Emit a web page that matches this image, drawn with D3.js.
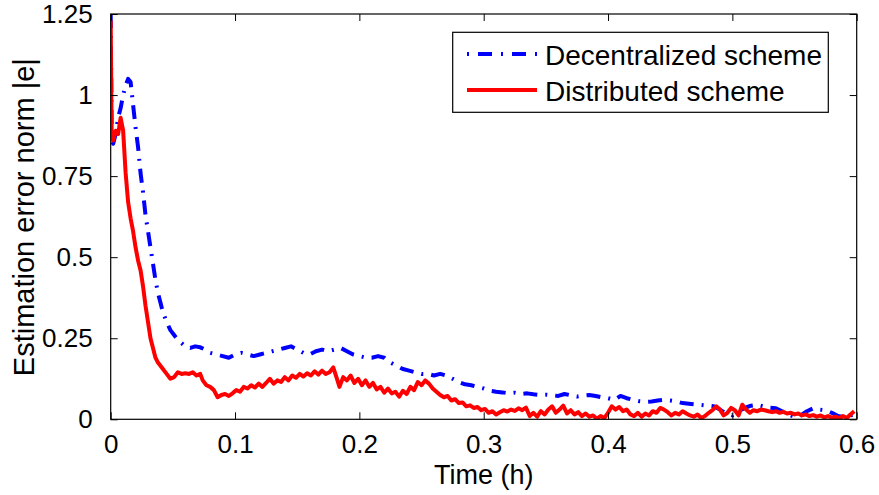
<!DOCTYPE html>
<html>
<head>
<meta charset="utf-8">
<script src="https://cdn.jsdelivr.net/npm/d3@7"></script>
<style>
  html, body { margin: 0; padding: 0; background: #fff; }
  svg { display: block; font-family: "Liberation Sans", Arial, Helvetica, sans-serif; }
</style>
</head>
<body>
<svg id="chart" width="879" height="495"></svg>
<script>
// Time samples (h) and error norms for the distributed scheme
const distributedTime = [
  0, 0.0008, 0.002, 0.004, 0.006, 0.008, 0.010, 0.012, 0.014, 0.016, 0.018, 0.020,
  0.022, 0.024, 0.026, 0.028, 0.030, 0.032, 0.034, 0.036, 0.038, 0.040, 0.042, 0.045,
  0.048, 0.051, 0.054, 0.057, 0.060, 0.063, 0.066, 0.069, 0.072, 0.074, 0.077, 0.080,
  0.083, 0.086, 0.089, 0.092, 0.095, 0.098, 0.101, 0.104, 0.107, 0.110, 0.113, 0.116,
  0.119, 0.122, 0.125, 0.128, 0.131, 0.134, 0.137, 0.140, 0.143, 0.146, 0.149, 0.152,
  0.155, 0.158, 0.161, 0.164, 0.167, 0.170, 0.173, 0.176, 0.179, 0.182, 0.184, 0.187,
  0.190, 0.193, 0.196, 0.199, 0.202, 0.205, 0.208, 0.211, 0.214, 0.217, 0.220, 0.223,
  0.226, 0.229, 0.232, 0.235, 0.238, 0.241, 0.244, 0.247, 0.250, 0.253, 0.256, 0.259,
  0.262, 0.265, 0.268, 0.271, 0.274, 0.277, 0.280, 0.283, 0.286, 0.289, 0.292, 0.295,
  0.298, 0.301, 0.304, 0.307, 0.310, 0.313, 0.316, 0.319, 0.322, 0.325, 0.328, 0.331,
  0.334, 0.337, 0.340, 0.343, 0.346, 0.349, 0.352, 0.355, 0.358, 0.361, 0.364, 0.367,
  0.370, 0.373, 0.376, 0.379, 0.382, 0.385, 0.388, 0.391, 0.394, 0.397, 0.400, 0.403,
  0.406, 0.409, 0.412, 0.415, 0.418, 0.421, 0.424, 0.427, 0.430, 0.433, 0.436, 0.439,
  0.442, 0.445, 0.448, 0.451, 0.454, 0.457, 0.460, 0.463, 0.466, 0.469, 0.472, 0.475,
  0.478, 0.481, 0.484, 0.487, 0.490, 0.493, 0.496, 0.499, 0.502, 0.505, 0.508, 0.511,
  0.514, 0.517, 0.520, 0.523, 0.526, 0.529, 0.532, 0.535, 0.538, 0.541, 0.544, 0.547,
  0.550, 0.553, 0.556, 0.559, 0.562, 0.565, 0.568, 0.571, 0.574, 0.577, 0.580, 0.583,
  0.586, 0.589, 0.592, 0.595, 0.598
];
const distributedError = [
  1.23, 0.87, 0.86, 0.89, 0.88, 0.93, 0.89, 0.76, 0.67, 0.62, 0.58, 0.53,
  0.49, 0.46, 0.41, 0.35, 0.30, 0.25, 0.22, 0.19, 0.175, 0.165, 0.155, 0.14,
  0.125, 0.13, 0.145, 0.14, 0.142, 0.14, 0.145, 0.135, 0.14, 0.12, 0.105, 0.10,
  0.09, 0.068, 0.075, 0.078, 0.072, 0.08, 0.09, 0.085, 0.10, 0.095, 0.105, 0.098,
  0.11, 0.10, 0.112, 0.125, 0.11, 0.12, 0.115, 0.13, 0.12, 0.135, 0.128, 0.14,
  0.132, 0.142, 0.135, 0.148, 0.138, 0.15, 0.14, 0.145, 0.16, 0.125, 0.10, 0.13,
  0.12, 0.135, 0.112, 0.125, 0.105, 0.12, 0.10, 0.112, 0.092, 0.10, 0.082, 0.095,
  0.08, 0.085, 0.07, 0.088, 0.078, 0.10, 0.09, 0.115, 0.105, 0.12, 0.11, 0.095,
  0.085, 0.075, 0.068, 0.072, 0.058, 0.062, 0.05, 0.052, 0.04, 0.043, 0.035, 0.038,
  0.028, 0.032, 0.02, 0.025, 0.015, 0.022, 0.028, 0.024, 0.03, 0.026, 0.034, 0.028,
  0.036, 0.01, 0.02, 0.008, 0.025, 0.015, 0.03, 0.04, 0.02, 0.03, 0.042, 0.018,
  0.028, 0.015, 0.022, 0.01, 0.018, 0.008, 0.012, 0.002, 0.01, 0.004, 0.02, 0.04,
  0.03, 0.038, 0.025, 0.03, 0.015, 0.01, 0.02, 0.008, 0.018, 0.012, 0.025, 0.02,
  0.035, 0.03, 0.022, 0.012, 0.02, 0.015, 0.025, 0.018, 0.012, 0.008, 0.015, 0.004,
  0.01, 0.02, 0.028, 0.04, 0.03, 0.012, 0.02, 0.035, 0.028, 0.012, 0.045, 0.03,
  0.02, 0.028, 0.025, 0.03, 0.028, 0.025, 0.022, 0.025, 0.02, 0.023, 0.018, 0.02,
  0.015, 0.018, 0.012, 0.015, 0.01, 0.013, 0.008, 0.012, 0.006, 0.01, 0.005, 0.008,
  0.003, 0.01, 0.004, 0.015, 0.025
];

// Time samples (h) and error norms for the decentralized scheme
const decentralizedTime = [
  0, 0.0008, 0.002, 0.004, 0.006, 0.008, 0.010, 0.012, 0.014, 0.016, 0.018, 0.020,
  0.022, 0.024, 0.026, 0.028, 0.030, 0.032, 0.034, 0.036, 0.038, 0.040, 0.042, 0.045,
  0.048, 0.051, 0.054, 0.057, 0.060, 0.064, 0.068, 0.072, 0.076, 0.080, 0.085, 0.090,
  0.095, 0.100, 0.105, 0.110, 0.115, 0.120, 0.125, 0.130, 0.135, 0.140, 0.145, 0.150,
  0.155, 0.160, 0.165, 0.170, 0.175, 0.180, 0.185, 0.190, 0.195, 0.200, 0.205, 0.210,
  0.215, 0.220, 0.225, 0.230, 0.235, 0.240, 0.245, 0.250, 0.255, 0.260, 0.265, 0.270,
  0.275, 0.280, 0.285, 0.290, 0.295, 0.300, 0.305, 0.310, 0.315, 0.320, 0.325, 0.330,
  0.335, 0.340, 0.345, 0.350, 0.355, 0.360, 0.365, 0.370, 0.375, 0.380, 0.385, 0.390,
  0.395, 0.400, 0.405, 0.410, 0.415, 0.420, 0.425, 0.430, 0.435, 0.440, 0.445, 0.450,
  0.455, 0.460, 0.465, 0.470, 0.475, 0.480, 0.485, 0.490, 0.495, 0.500, 0.505, 0.510,
  0.515, 0.520, 0.525, 0.530, 0.535, 0.540, 0.545, 0.550, 0.555, 0.560, 0.565, 0.570,
  0.575, 0.580, 0.585, 0.590, 0.595, 0.600
];
const decentralizedError = [
  1.25, 0.86, 0.85, 0.88, 0.93, 0.96, 1.00, 1.03, 1.05, 1.04, 0.97, 0.90,
  0.84, 0.76, 0.70, 0.63, 0.58, 0.53, 0.48, 0.43, 0.39, 0.36, 0.33, 0.30,
  0.275, 0.26, 0.245, 0.235, 0.225, 0.22, 0.225, 0.222, 0.215, 0.205, 0.20, 0.195,
  0.19, 0.20, 0.205, 0.20, 0.195, 0.20, 0.205, 0.21, 0.215, 0.22, 0.225, 0.215,
  0.205, 0.20, 0.21, 0.215, 0.21, 0.215, 0.22, 0.21, 0.20, 0.195, 0.19, 0.19,
  0.195, 0.19, 0.175, 0.165, 0.155, 0.15, 0.145, 0.14, 0.14, 0.135, 0.14, 0.135,
  0.125, 0.115, 0.108, 0.105, 0.10, 0.095, 0.088, 0.085, 0.083, 0.08, 0.082, 0.078,
  0.08, 0.077, 0.075, 0.076, 0.074, 0.072, 0.078, 0.074, 0.07, 0.073, 0.075, 0.072,
  0.068, 0.065, 0.06, 0.072, 0.065, 0.06, 0.056, 0.054, 0.055, 0.058, 0.06, 0.058,
  0.055, 0.05, 0.048, 0.046, 0.044, 0.042, 0.04, 0.03, 0.018, 0.012, 0.025, 0.035,
  0.042, 0.045, 0.04, 0.036, 0.034, 0.025, 0.015, 0.008, 0.012, 0.025, 0.034, 0.03,
  0.028, 0.02, 0.01, 0.006, 0.012, 0.018
];

const xTicks = [0, 0.1, 0.2, 0.3, 0.4, 0.5, 0.6];
const xTickLabels = ["0", "0.1", "0.2", "0.3", "0.4", "0.5", "0.6"];
const yTicks = [0, 0.25, 0.5, 0.75, 1, 1.25];
const yTickLabels = ["0", "0.25", "0.5", "0.75", "1", "1.25"];
const seriesNames = ["Decentralized scheme", "Distributed scheme"];

const svg = d3.select("#chart");
const plotLeft = 110.7, plotRight = 856.7, plotTop = 14, plotBottom = 419.3;

const x = d3.scaleLinear().domain([0, 0.6]).range([plotLeft, plotRight]);
const y = d3.scaleLinear().domain([0, 1.25]).range([plotBottom, plotTop]);

svg.append("defs").append("clipPath").attr("id", "plotClip")
  .append("rect").attr("x", plotLeft).attr("y", plotTop)
  .attr("width", plotRight - plotLeft).attr("height", plotBottom - plotTop);

const line = d3.line().x(d => x(d[0])).y(d => y(d[1]));
const blueData = decentralizedTime.map((t, i) => [t, decentralizedError[i]]);
const redData = distributedTime.map((t, i) => [t, distributedError[i]]);

const plot = svg.append("g").attr("clip-path", "url(#plotClip)");
plot.append("path").datum(blueData)
  .attr("d", line).attr("fill", "none").attr("stroke", "#0000ff")
  .attr("stroke-width", 4).attr("stroke-dasharray", "14,8,2,8")
  .attr("stroke-linejoin", "round");
plot.append("path").datum(redData)
  .attr("d", line).attr("fill", "none").attr("stroke", "#ff0000")
  .attr("stroke-width", 4).attr("stroke-linejoin", "round");

// Axes: ticks point inward on all four sides
const tickLen = 7;
const fontSize = 26;
const axisStyle = g => {
  g.select(".domain").remove();
  g.selectAll(".tick line").attr("stroke", "#000").attr("stroke-width", 1);
  g.selectAll(".tick text").attr("fill", "#000").style("font-size", fontSize + "px")
    .style("font-family", '"Liberation Sans", Arial, sans-serif');
};

svg.append("g").attr("transform", `translate(0,${plotBottom})`)
  .call(d3.axisBottom(x).tickValues(xTicks).tickFormat((d, i) => xTickLabels[i])
    .tickSizeInner(-tickLen).tickSizeOuter(0).tickPadding(15))
  .call(axisStyle);
svg.append("g").attr("transform", `translate(0,${plotTop})`)
  .call(d3.axisTop(x).tickValues(xTicks).tickFormat("")
    .tickSizeInner(-tickLen).tickSizeOuter(0))
  .call(axisStyle);
svg.append("g").attr("transform", `translate(${plotLeft},0)`)
  .call(d3.axisLeft(y).tickValues(yTicks).tickFormat((d, i) => yTickLabels[i])
    .tickSizeInner(-tickLen).tickSizeOuter(0).tickPadding(18))
  .call(axisStyle);
svg.append("g").attr("transform", `translate(${plotRight},0)`)
  .call(d3.axisRight(y).tickValues(yTicks).tickFormat("")
    .tickSizeInner(-tickLen).tickSizeOuter(0))
  .call(axisStyle);

svg.append("rect").attr("x", plotLeft).attr("y", plotTop)
  .attr("width", plotRight - plotLeft).attr("height", plotBottom - plotTop)
  .attr("fill", "none").attr("stroke", "#000").attr("stroke-width", 1.2);

// Axis titles
svg.append("text").attr("x", (plotLeft + plotRight) / 2).attr("y", 484)
  .attr("text-anchor", "middle").style("font-size", "27px").text("Time (h)");
svg.append("text")
  .attr("transform", `translate(34,${(plotTop + plotBottom) / 2 + 0.5}) rotate(-90)`)
  .attr("text-anchor", "middle").style("font-size", "29px")
  .text("Estimation error norm |e|");

// Legend
const legend = svg.append("g");
legend.append("rect").attr("x", 452.7).attr("y", 32.3)
  .attr("width", 375.6).attr("height", 80)
  .attr("fill", "#fff").attr("stroke", "#000").attr("stroke-width", 1.2);
const legendStyles = [
  { color: "#0000ff", dash: "2,9,14,9", y: 54 },
  { color: "#ff0000", dash: null, y: 90 }
];
seriesNames.forEach((name, i) => {
  const s = legendStyles[i];
  legend.append("line").attr("x1", 467).attr("x2", 537)
    .attr("y1", s.y).attr("y2", s.y)
    .attr("stroke", s.color).attr("stroke-width", 4)
    .attr("stroke-dasharray", s.dash);
  legend.append("text").attr("x", 545).attr("y", s.y + 10.5)
    .style("font-size", "28px").text(name);
});
</script>
</body>
</html>
